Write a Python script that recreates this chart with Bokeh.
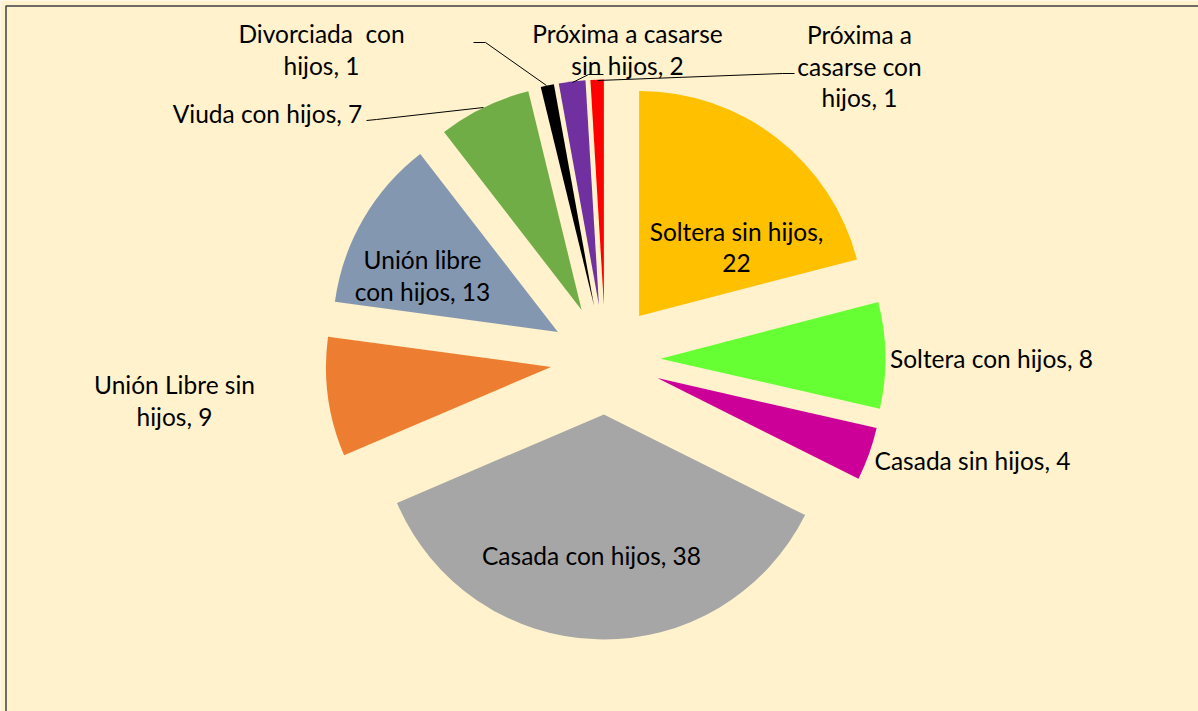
import textwrap
import numpy as np
from bokeh.plotting import figure
from bokeh.models import ColumnDataSource, Range1d
from bokeh.core.properties import value
from bokeh.embed import file_html
from bokeh.resources import INLINE

# ---------------- data ----------------
categories = ["Soltera sin hijos", "Soltera con hijos", "Casada sin hijos",
              "Casada con hijos", "Unión Libre sin hijos", "Unión libre con hijos",
              "Viuda con hijos", "Divorciada\u00a0 con hijos", "Próxima a casarse sin hijos",
              "Próxima a casarse con hijos"]
values = [22, 8, 4, 38, 9, 13, 7, 1, 2, 1]
colors = ["#FFC000", "#66FF33", "#CC0099", "#A6A6A6", "#ED7D31",
          "#8497B0", "#70AD47", "#000000", "#7030A0", "#FF0000"]

# ---------------- layout (screen pixels of the page) ----------------
W, H = 1198, 711


def dx(x):
    return x


def dy(y):
    return H - y


CENTER = (605, 359)      # pie centre (screen px)
RADIUS = 225
EXPLODE = 55
BG = "#FFF2CC"
FONT = "Lato"
FONT_SIZE = "24.5px"
LINE_H = 31.5
TEXT_SHIFT = -9

# label: wrap width (chars), centre x, first baseline y (screen px)
label_wrap = [18, 40, 40, 40, 15, 13, 40, 15, 17, 11]
label_pos = [(736, 240), (991, 367), (972, 469), (591, 564), (174, 393),
             (422, 268), (267, 122), (321, 42), (627, 42), (859, 43)]

# leader lines (screen px)
leaders = [
    [(366, 120), (376, 119), (483, 107)],      # Viuda
    [(473, 42), (485, 42), (546, 85)],         # Divorciada
    [(603, 74), (588, 74), (572, 82)],         # Próxima sin hijos
    [(597, 80), (782, 73), (794, 73)],         # Próxima con hijos
]

# ---------------- geometry from data ----------------
vals = np.array(values, dtype=float)
total = vals.sum()
cum_end = np.cumsum(vals)
cum_start = cum_end - vals
start = np.pi / 2 - 2 * np.pi * cum_start / total
end = np.pi / 2 - 2 * np.pi * cum_end / total
mid = (start + end) / 2
cx, cy = dx(CENTER[0]), dy(CENTER[1])
xs = cx + EXPLODE * np.cos(mid)
ys = cy + EXPLODE * np.sin(mid)

src = ColumnDataSource(dict(x=xs, y=ys, start=start, end=end, color=colors,
                            cat=categories, val=values))

p = figure(width=W, height=H, x_range=Range1d(0, W), y_range=Range1d(0, H),
           output_backend="svg", toolbar_location=None, min_border=0,
           x_axis_location=None, y_axis_location=None)
p.grid.visible = False
p.outline_line_color = None
p.background_fill_color = BG
p.border_fill_color = BG

p.wedge(x="x", y="y", radius=RADIUS, start_angle="start", end_angle="end",
        direction="clock", fill_color="color", line_color=None, source=src)

# chart-area border (left and top)
p.line([dx(5.5), dx(5.5), dx(W)], [dy(H), dy(5.5), dy(5.5)],
       line_color="#404040", line_width=1.5)

# leader lines
for pts in leaders:
    p.line([dx(a) for a, b in pts], [dy(b) for a, b in pts],
           line_color="#000000", line_width=1)

# labels
tx, ty, tt = [], [], []
for cat, v, w, (lx, ly) in zip(categories, values, label_wrap, label_pos):
    lines = textwrap.wrap(f"{cat}, {v}", w)
    for i, ln in enumerate(lines):
        tx.append(dx(lx))
        ty.append(dy(ly + i * LINE_H + TEXT_SHIFT))
        tt.append(ln)

p.text(x=tx, y=ty, text=tt, text_font=value(FONT), text_font_size=FONT_SIZE,
       text_align="center", text_baseline="alphabetic", text_color="#000000")

open("out.html", "w").write(file_html(p, INLINE))
